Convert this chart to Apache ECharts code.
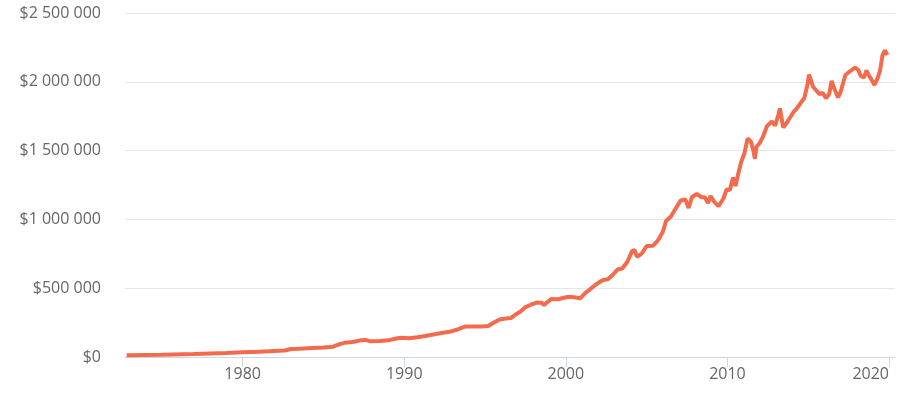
<!DOCTYPE html>
<html>
<head>
<meta charset="utf-8">
<script src="https://cdn.jsdelivr.net/npm/echarts@6/dist/echarts.min.js"></script>
<style>
  html, body { margin: 0; padding: 0; background: #ffffff; }
  #chart { width: 915px; height: 408px; }
</style>
</head>
<body>
<div id="chart"></div>
<script>
// Decimal years (time) and portfolio value in dollars
var years = [
  1972.82, 1973, 1975, 1977, 1979, 1980, 1981, 1982, 1982.6, 1983, 1983.5, 1984, 1985, 1985.6,
  1986, 1986.3, 1986.8, 1987.3, 1987.6, 1987.9, 1988.5, 1989, 1989.5, 1989.8, 1990.3, 1990.8,
  1991.3, 1991.8, 1992.3, 1992.8, 1993.3, 1993.8, 1994.3, 1994.8, 1995.2, 1995.5, 1995.9,
  1996.3, 1996.6, 1996.9, 1997.2, 1997.5, 1997.8, 1998.2, 1998.5, 1998.65, 1998.9, 1999.1,
  1999.5, 1999.8, 2000.2, 2000.5, 2000.9, 2001.2, 2001.5, 2001.9, 2002.3, 2002.6, 2002.9,
  2003.2, 2003.5, 2003.8, 2004.1, 2004.25, 2004.4, 2004.7, 2005.0, 2005.4, 2005.7, 2006.0,
  2006.2, 2006.5, 2006.8, 2007.1, 2007.4, 2007.6, 2007.8, 2008.1, 2008.4, 2008.6, 2008.8,
  2008.95, 2009.2, 2009.45, 2009.75, 2009.95, 2010.15, 2010.35, 2010.5, 2010.65, 2010.85,
  2011.05, 2011.25, 2011.45, 2011.6, 2011.7, 2011.8, 2012.0, 2012.2, 2012.45, 2012.75,
  2012.95, 2013.15, 2013.25, 2013.45, 2013.65, 2013.85, 2014.1, 2014.3, 2014.55, 2014.75,
  2014.95, 2015.05, 2015.3, 2015.5, 2015.7, 2015.9, 2016.1, 2016.3, 2016.45, 2016.6, 2016.85,
  2017.0, 2017.3, 2017.6, 2017.9, 2018.1, 2018.25, 2018.45, 2018.6, 2018.8, 2019.0, 2019.1,
  2019.3, 2019.45, 2019.6, 2019.75, 2019.9
];
var values = [
  12000, 12000, 16000, 22000, 29000, 34000, 38000, 44000, 47000, 58000, 60000, 63000, 69000, 75000,
  94000, 103000, 109000, 121000, 124000, 114000, 116000, 121000, 134000, 140000, 136000, 143000,
  153000, 164000, 174000, 183000, 200000, 222000, 221000, 222000, 225000, 247000, 273000,
  280000, 283000, 309000, 331000, 363000, 378000, 396000, 395000, 378000, 403000, 421000,
  419000, 429000, 438000, 434000, 427000, 465000, 492000, 531000, 560000, 565000, 596000,
  636000, 643000, 690000, 770000, 778000, 727000, 752000, 807000, 809000, 847000, 908000,
  988000, 1021000, 1079000, 1137000, 1145000, 1083000, 1161000, 1185000, 1161000, 1161000, 1119000,
  1170000, 1126000, 1097000, 1152000, 1217000, 1214000, 1304000, 1243000, 1323000, 1417000,
  1480000, 1589000, 1565000, 1504000, 1440000, 1528000, 1555000, 1601000, 1679000, 1711000,
  1682000, 1759000, 1807000, 1668000, 1698000, 1735000, 1781000, 1807000, 1849000, 1880000,
  1977000, 2053000, 1964000, 1937000, 1911000, 1919000, 1880000, 1911000, 2006000, 1955000, 1886000,
  1926000, 2049000, 2078000, 2104000, 2086000, 2042000, 2031000, 2082000, 2038000, 1998000, 1977000,
  2028000, 2086000, 2195000, 2227000, 2195000
];
var xTickYears = [1980, 1990, 2000, 2010, 2020];
var yTicks = [0, 500000, 1000000, 1500000, 2000000, 2500000];

function fmtMoney(v) {
  var s = String(Math.round(v));
  return '$' + s.replace(/\B(?=(\d{3})+(?!\d))/g, ' ');
}

var seriesData = years.map(function (y, i) { return [y, values[i]]; });

var chart = echarts.init(document.getElementById('chart'), null, { renderer: 'canvas' });
chart.setOption({
  animation: false,
  backgroundColor: '#ffffff',
  textStyle: { fontFamily: 'Open Sans' },
  grid: { left: 125, right: 20, top: 13, bottom: 51, containLabel: false },
  xAxis: {
    type: 'value',
    min: 1972.72,
    max: 2020.37,
    axisLine: { show: true, lineStyle: { color: '#ccd6eb', width: 1 } },
    axisTick: { show: true, length: 10, lineStyle: { color: '#ccd6eb' }, customValues: xTickYears },
    axisLabel: {
      customValues: xTickYears,
      color: '#666666',
      fontSize: 16,
      fontFamily: 'Open Sans',
      margin: 9,
      alignMaxLabel: 'right',
      formatter: function (v) { return String(Math.round(v)); }
    },
    splitLine: { show: false }
  },
  yAxis: {
    type: 'value',
    min: yTicks[0],
    max: yTicks[yTicks.length - 1],
    interval: 500000,
    axisLine: { show: false },
    axisTick: { show: false },
    axisLabel: {
      color: '#666666',
      fontSize: 16,
      fontFamily: 'Open Sans',
      margin: 24,
      padding: [0, 0, 4, 0],
      formatter: fmtMoney
    },
    splitLine: { show: true, lineStyle: { color: '#e6e6e6', width: 1 } }
  },
  series: [{
    type: 'line',
    data: seriesData,
    showSymbol: false,
    symbol: 'none',
    lineStyle: { color: '#f26b4c', width: 4 },
    itemStyle: { color: '#f26b4c' }
  }]
});
</script>
</body>
</html>
